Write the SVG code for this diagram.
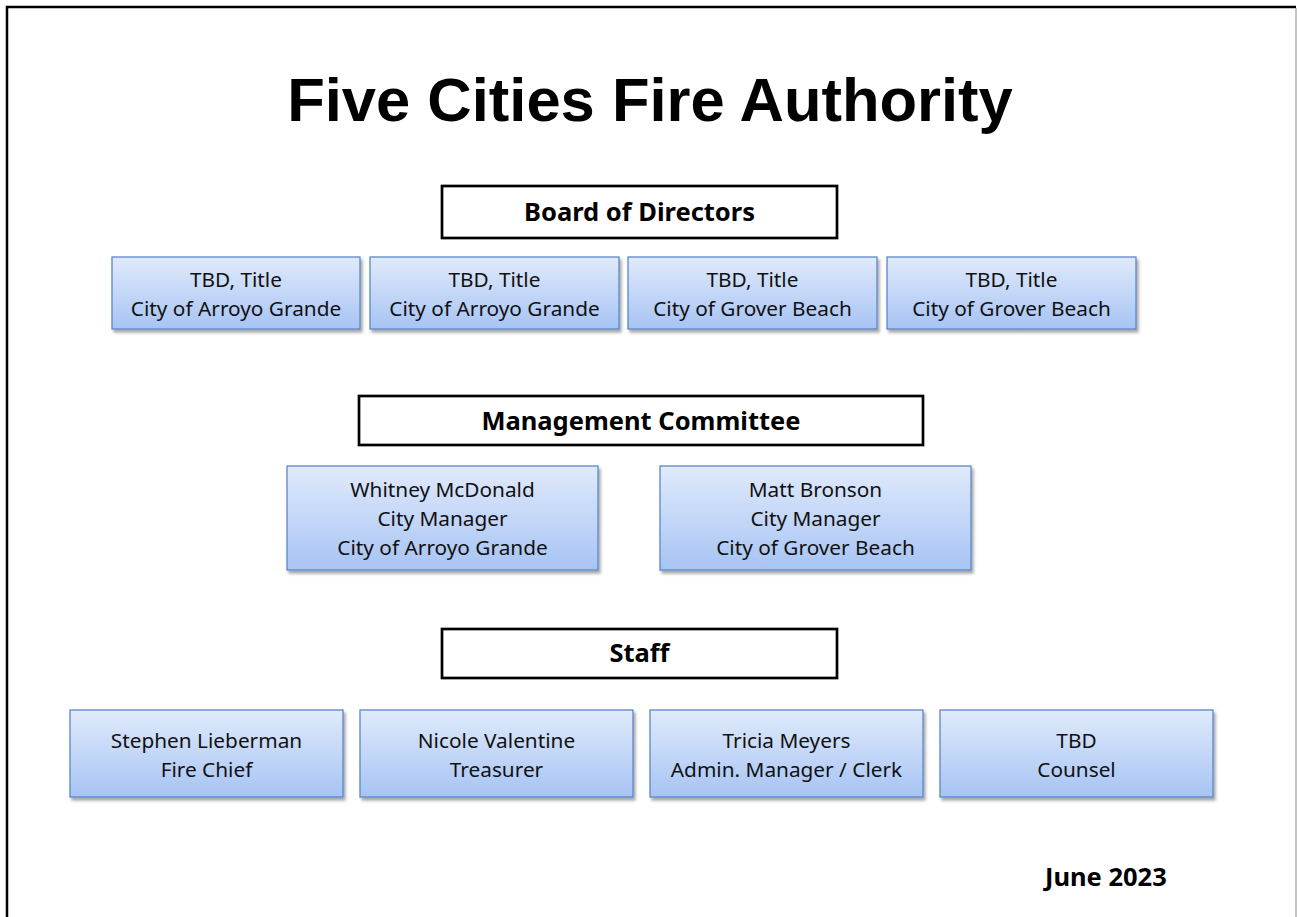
<svg xmlns="http://www.w3.org/2000/svg" width="1297" height="917" viewBox="0 0 1297 917">
  <defs>
    <linearGradient id="blueFill" x1="0" y1="0" x2="0" y2="1">
      <stop offset="0" stop-color="#e0eafb"/>
      <stop offset="1" stop-color="#a7c4f4"/>
    </linearGradient>
    <filter id="shadow" x="-10%" y="-20%" width="125%" height="150%">
      <feDropShadow dx="2" dy="3" stdDeviation="1.8" flood-color="#000" flood-opacity="0.35"/>
    </filter>
    <style>
      .frame { fill: none; stroke: #000; stroke-width: 2.5; }
      .edge { stroke: #b0b0b0; stroke-width: 1.5; }
      .head { fill: #fff; stroke: #000; stroke-width: 2.7; }
      .card { fill: url(#blueFill); stroke: #5b87c9; stroke-width: 1.3; filter: url(#shadow); }
      .title { font-family: "Liberation Sans", Arial, sans-serif; font-weight: bold; font-size: 61.5px; fill: #000; text-anchor: middle; }
      .hlabel { font-family: "Noto Sans", "Open Sans", sans-serif; font-weight: bold; font-size: 25.5px; fill: #000; text-anchor: middle; }
      .label { font-family: "Noto Sans", "Open Sans", sans-serif; font-size: 20.8px; fill: #111; text-anchor: middle; }
      .date { font-family: "Noto Sans", "Open Sans", sans-serif; font-weight: bold; font-size: 25.5px; fill: #000; }
    </style>
  </defs>

  <rect width="1297" height="917" fill="#fff"/>
  <!-- page frame: heavy left/top, light right edge -->
  <path class="frame" d="M7 917 V7 H1296"/>
  <line class="edge" x1="1296" y1="8" x2="1296" y2="917"/>

  <text class="title" x="650" y="121">Five Cities Fire Authority</text>

  <!-- Section headers -->
  <g id="board">
    <rect class="head" x="442" y="186" width="395" height="52"/>
    <text class="hlabel" x="639.5" y="221">Board of Directors</text>
  </g>
  <g id="management">
    <rect class="head" x="359" y="396" width="564" height="49"/>
    <text class="hlabel" x="641" y="429.5">Management Committee</text>
  </g>
  <g id="staff">
    <rect class="head" x="442" y="629" width="395" height="49"/>
    <text class="hlabel" x="639.5" y="662">Staff</text>
  </g>

  <!-- Board members -->
  <g id="board-1">
    <rect class="card" x="112" y="257" width="248" height="72"/>
    <text class="label" x="236" y="287">TBD, Title</text>
    <text class="label" x="236" y="316">City of Arroyo Grande</text>
  </g>
  <g id="board-2">
    <rect class="card" x="370" y="257" width="249" height="72"/>
    <text class="label" x="494.5" y="287">TBD, Title</text>
    <text class="label" x="494.5" y="316">City of Arroyo Grande</text>
  </g>
  <g id="board-3">
    <rect class="card" x="628" y="257" width="249" height="72"/>
    <text class="label" x="752.5" y="287">TBD, Title</text>
    <text class="label" x="752.5" y="316">City of Grover Beach</text>
  </g>
  <g id="board-4">
    <rect class="card" x="887" y="257" width="249" height="72"/>
    <text class="label" x="1011.5" y="287">TBD, Title</text>
    <text class="label" x="1011.5" y="316">City of Grover Beach</text>
  </g>

  <!-- Management committee members -->
  <g id="mgmt-1">
    <rect class="card" x="287" y="466" width="311" height="104"/>
    <text class="label" x="442.5" y="497">Whitney McDonald</text>
    <text class="label" x="442.5" y="526">City Manager</text>
    <text class="label" x="442.5" y="555">City of Arroyo Grande</text>
  </g>
  <g id="mgmt-2">
    <rect class="card" x="660" y="466" width="311" height="104"/>
    <text class="label" x="815.5" y="497">Matt Bronson</text>
    <text class="label" x="815.5" y="526">City Manager</text>
    <text class="label" x="815.5" y="555">City of Grover Beach</text>
  </g>

  <!-- Staff members -->
  <g id="staff-1">
    <rect class="card" x="70" y="710" width="273" height="87"/>
    <text class="label" x="206.5" y="748">Stephen Lieberman</text>
    <text class="label" x="206.5" y="777">Fire Chief</text>
  </g>
  <g id="staff-2">
    <rect class="card" x="360" y="710" width="273" height="87"/>
    <text class="label" x="496.5" y="748">Nicole Valentine</text>
    <text class="label" x="496.5" y="777">Treasurer</text>
  </g>
  <g id="staff-3">
    <rect class="card" x="650" y="710" width="273" height="87"/>
    <text class="label" x="786.5" y="748">Tricia Meyers</text>
    <text class="label" x="786.5" y="777">Admin. Manager / Clerk</text>
  </g>
  <g id="staff-4">
    <rect class="card" x="940" y="710" width="273" height="87"/>
    <text class="label" x="1076.5" y="748">TBD</text>
    <text class="label" x="1076.5" y="777">Counsel</text>
  </g>

  <g id="connectors"/>

  <text class="date" x="1045" y="886">June 2023</text>
</svg>
